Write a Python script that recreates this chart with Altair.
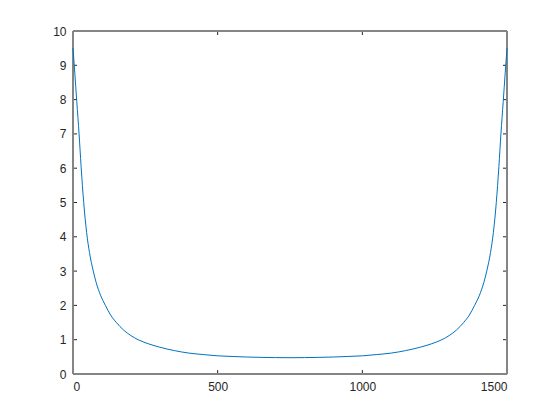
import altair as alt
import pandas as pd

# Values
x_vals = [0, 6, 13, 21, 28, 37, 47, 57, 70, 80, 95, 112, 130, 150, 175, 200, 225, 260, 300,
          350, 400, 450, 500, 550, 600, 650, 700, 750,
          800, 850, 900, 950, 1000, 1050, 1100, 1150, 1200, 1240, 1275, 1300, 1325, 1350,
          1370, 1388, 1405, 1420, 1430, 1443, 1453, 1463, 1472, 1479, 1487, 1494, 1500]
y_vals = [9.5, 8.8, 7.95, 7.0, 6.05, 5.0, 4.13, 3.54, 3.0, 2.67, 2.30, 2.0, 1.72, 1.50, 1.28, 1.12, 1.0, 0.883, 0.781,
          0.683, 0.61, 0.567, 0.53, 0.511, 0.495, 0.485, 0.478, 0.475,
          0.478, 0.485, 0.495, 0.511, 0.53, 0.567, 0.61, 0.683, 0.781, 0.883, 1.0, 1.12, 1.28, 1.50,
          1.72, 2.0, 2.30, 2.67, 3.0, 3.54, 4.13, 5.0, 6.05, 7.0, 7.95, 8.8, 9.5]
x_ticks = [0, 500, 1000, 1500]
y_ticks = [0, 1, 2, 3, 4, 5, 6, 7, 8, 9, 10]

W, H = 434, 343
TL = 4
TICK_COLOR = "#262626"
FRAME_COLOR = "#858585"

df = pd.DataFrame({"x": x_vals, "y": y_vals})
xt = pd.DataFrame({"t": x_ticks})
yt = pd.DataFrame({"t": y_ticks})

xscale = alt.Scale(domain=[0, 1500], nice=False, zero=False)
yscale = alt.Scale(domain=[0, 10], nice=False, zero=False)

x_axis = alt.Axis(values=x_ticks, ticks=False, domain=False, grid=False,
                  labelPadding=7, labelFontSize=12, labelColor=TICK_COLOR,
                  labelFont="Liberation Sans", format="d")
y_axis = alt.Axis(values=y_ticks, ticks=False, domain=False, grid=False,
                  labelPadding=7, labelFontSize=12, labelColor=TICK_COLOR,
                  labelFont="Liberation Sans", format="d")

line = alt.Chart(df).mark_line(color="#0072BD", strokeWidth=1, interpolate="monotone").encode(
    x=alt.X("x:Q", scale=xscale, title=None, axis=x_axis),
    y=alt.Y("y:Q", scale=yscale, title=None, axis=y_axis),
)

def rule(data):
    return alt.Chart(data).mark_rule(color=TICK_COLOR, strokeWidth=1)

xb = rule(xt).encode(x=alt.X("t:Q", scale=xscale, title=None, axis=x_axis),
                     y=alt.value(H), y2=alt.value(H - TL))
xtop = rule(xt).encode(x=alt.X("t:Q", scale=xscale, title=None, axis=x_axis),
                       y=alt.value(0), y2=alt.value(TL))
yl = rule(yt).encode(y=alt.Y("t:Q", scale=yscale, title=None, axis=y_axis),
                     x=alt.value(0), x2=alt.value(TL))
yr = rule(yt).encode(y=alt.Y("t:Q", scale=yscale, title=None, axis=y_axis),
                     x=alt.value(W), x2=alt.value(W - TL))

frame_style = dict(color=FRAME_COLOR, strokeWidth=1.5)
f_top = alt.Chart(xt).mark_rule(**frame_style).encode(x=alt.value(0), x2=alt.value(W), y=alt.value(0))
f_bot = alt.Chart(xt).mark_rule(**frame_style).encode(x=alt.value(0), x2=alt.value(W), y=alt.value(H))
f_left = alt.Chart(xt).mark_rule(**frame_style).encode(y=alt.value(0), y2=alt.value(H), x=alt.value(0))
f_right = alt.Chart(xt).mark_rule(**frame_style).encode(y=alt.value(0), y2=alt.value(H), x=alt.value(W))

chart = alt.layer(xb, xtop, yl, yr, f_top, f_bot, f_left, f_right, line).properties(
    width=W, height=H,
    autosize=alt.AutoSizeParams(type="none"),
    padding={"left": 65, "top": 23, "right": 45, "bottom": 46},
).configure_view(stroke=None).configure(background="white")

chart.save("out.html", embed_options={"renderer": "svg", "actions": False})
